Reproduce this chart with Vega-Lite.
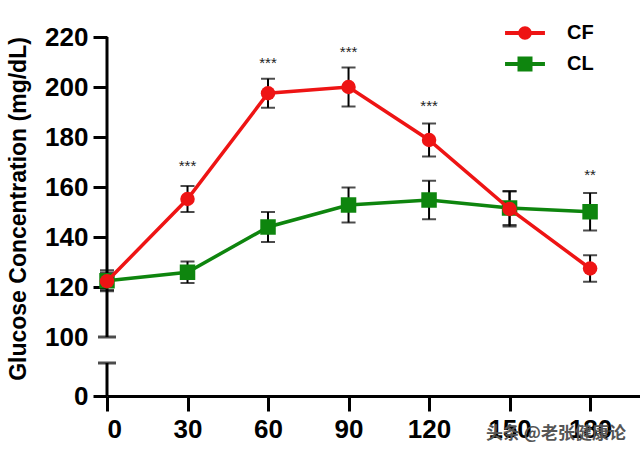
{
  "$schema": "https://vega.github.io/schema/vega-lite/v6.json",
  "description": "Glucose concentration over time, CF vs CL, with broken y axis",
  "width": 533,
  "height": 359,
  "autosize": {"type": "none"},
  "padding": {"left": 107, "top": 37, "right": 0, "bottom": 56},
  "background": "white",
  "title": {
    "text": "头条 @老张健康论",
    "orient": "bottom",
    "anchor": "end",
    "font": "Noto Sans CJK SC",
    "fontSize": 17,
    "fontWeight": "bold",
    "color": "#555555",
    "offset": -16,
    "dx": -14
  },
  "config": {
    "view": {"stroke": null},
    "font": "Liberation Sans"
  },
  "datasets": {
    "glucose": [
      {"series": "CF", "time": 0, "mean": 122.3, "sem": 3.5},
      {"series": "CF", "time": 30, "mean": 155.2, "sem": 5.2},
      {"series": "CF", "time": 60, "mean": 197.5, "sem": 5.8},
      {"series": "CF", "time": 90, "mean": 200.0, "sem": 7.8},
      {"series": "CF", "time": 120, "mean": 178.8, "sem": 6.6},
      {"series": "CF", "time": 150, "mean": 151.2, "sem": 7.0},
      {"series": "CF", "time": 180, "mean": 127.4, "sem": 5.3},
      {"series": "CL", "time": 0, "mean": 122.5, "sem": 4.2},
      {"series": "CL", "time": 30, "mean": 125.9, "sem": 4.3},
      {"series": "CL", "time": 60, "mean": 144.0, "sem": 6.0},
      {"series": "CL", "time": 90, "mean": 152.8, "sem": 7.0},
      {"series": "CL", "time": 120, "mean": 154.8, "sem": 7.7},
      {"series": "CL", "time": 150, "mean": 151.6, "sem": 6.8},
      {"series": "CL", "time": 180, "mean": 150.1, "sem": 7.5}
    ],
    "sig": [
      {"time": 30, "stars": "***", "at": 168.4},
      {"time": 60, "stars": "***", "at": 209.6},
      {"time": 90, "stars": "***", "at": 214.0},
      {"time": 120, "stars": "***", "at": 192.4},
      {"time": 180, "stars": "**", "at": 164.8}
    ],
    "axisSeg": [
      {"from": 0, "to": 10},
      {"from": 100, "to": 220}
    ],
    "breaks": [
      {"at": 10},
      {"at": 100}
    ]
  },
  "encoding": {
    "x": {
      "type": "quantitative",
      "scale": {"domain": [0, 198.6], "nice": false, "zero": false},
      "axis": {
        "title": null,
        "grid": false,
        "values": [0, 30, 60, 90, 120, 150, 180],
        "domainColor": "black",
        "domainWidth": 3,
        "tickColor": "black",
        "tickWidth": 3,
        "tickSize": 15,
        "labelFontSize": 26,
        "labelFontWeight": "bold",
        "labelColor": "black",
        "labelPadding": 5
      }
    },
    "y": {
      "type": "quantitative",
      "scale": {"domain": [0, 10, 100, 220], "range": [359, 326, 300, 0], "nice": false, "zero": false},
      "axis": {
        "title": "Glucose Concentration (mg/dL)",
        "titleFontSize": 23,
        "titleFontWeight": "bold",
        "titleColor": "black",
        "titleBaseline": "middle",
        "titleX": -89,
        "titleY": 171.5,
        "grid": false,
        "domain": false,
        "values": [0, 100, 120, 140, 160, 180, 200, 220],
        "tickColor": {"condition": {"test": "datum.value === 100", "value": "transparent"}, "value": "black"},
        "tickWidth": 3,
        "tickSize": 14,
        "labelFontSize": 26,
        "labelFontWeight": "bold",
        "labelColor": "black",
        "labelPadding": 5
      }
    }
  },
  "layer": [
    {
      "data": {"name": "axisSeg"},
      "mark": {"type": "rule", "color": "black", "strokeWidth": 3},
      "encoding": {
        "x": {"datum": 0, "type": "quantitative"},
        "y": {"field": "from", "type": "quantitative"},
        "y2": {"field": "to"}
      }
    },
    {
      "data": {"name": "breaks"},
      "mark": {"type": "tick", "orient": "horizontal", "color": "black", "size": 18, "thickness": 3},
      "encoding": {
        "x": {"datum": 0, "type": "quantitative"},
        "y": {"field": "at", "type": "quantitative"}
      }
    },
    {
      "data": {"name": "sig"},
      "mark": {"type": "text", "fontSize": 15, "color": "#222222"},
      "encoding": {
        "x": {"field": "time", "type": "quantitative"},
        "y": {"field": "at", "type": "quantitative"},
        "text": {"field": "stars"}
      }
    },
    {
      "data": {"name": "glucose"},
      "encoding": {
        "x": {"field": "time", "type": "quantitative"},
        "y": {"field": "mean", "type": "quantitative"},
        "color": {
          "field": "series",
          "type": "nominal",
          "scale": {"domain": ["CF", "CL"], "range": ["#ee1414", "#0e850e"]},
          "legend": {
            "title": null,
            "orient": "none",
            "legendX": 403,
            "legendY": -19,
            "padding": 0,
            "symbolSize": 900,
            "symbolStrokeWidth": 0,
            "rowPadding": 6,
            "labelOffset": 27,
            "labelFontSize": 20,
            "labelFontWeight": "bold",
            "labelColor": "black",
            "encode": {
              "symbols": {
                "update": {
                  "shape": {"signal": "datum.value === 'CF' ? 'M-1.33,-0.13H1.33V0.13H-1.33Z M-0.45,0A0.45,0.45 0 1,1 0.45,0A0.45,0.45 0 1,1 -0.45,0Z' : 'M-1.33,-0.13H1.33V0.13H-1.33Z M-0.5,-0.5H0.5V0.5H-0.5Z'"},
                  "fill": {"scale": "color", "field": "value"},
                  "fillOpacity": {"value": 1},
                  "opacity": {"value": 1}
                }
              }
            }
          }
        }
      },
      "layer": [
        {
          "mark": {"type": "errorbar", "ticks": {"size": 14, "thickness": 2}, "thickness": 2},
          "encoding": {
            "yError": {"field": "sem"},
            "color": {"value": "black"}
          }
        },
        {
          "transform": [{"filter": "datum.series === 'CL'"}],
          "mark": {"type": "line", "strokeWidth": 3.5}
        },
        {
          "transform": [{"filter": "datum.series === 'CL'"}],
          "mark": {"type": "point", "shape": "square", "filled": true, "opacity": 1, "size": 240}
        },
        {
          "transform": [{"filter": "datum.series === 'CF'"}],
          "mark": {"type": "line", "strokeWidth": 3.5}
        },
        {
          "transform": [{"filter": "datum.series === 'CF'"}],
          "mark": {"type": "point", "shape": "circle", "filled": true, "opacity": 1, "size": 210}
        }
      ]
    }
  ]
}
